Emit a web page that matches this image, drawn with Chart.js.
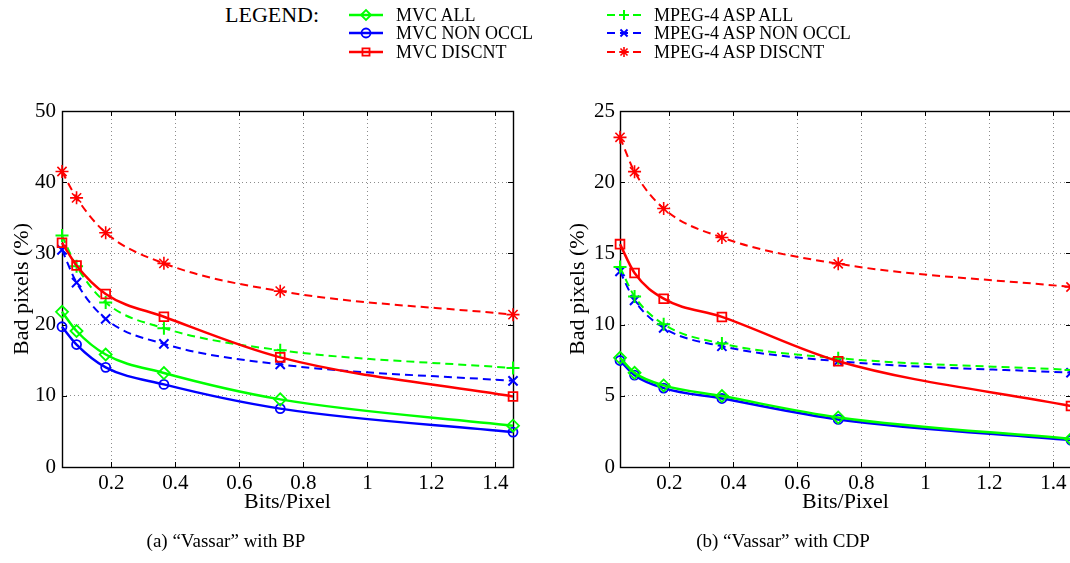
<!DOCTYPE html>
<html><head><meta charset="utf-8">
<script src="https://cdn.jsdelivr.net/npm/chart.js@4/dist/chart.umd.min.js"></script>
<style>
html,body{margin:0;padding:0;background:#fff;overflow:hidden;width:1070px;height:563px;}
body{position:relative;font-family:"Liberation Serif","Times New Roman",serif;color:#000;}
.wrap{position:absolute;}
#legendTitle{position:absolute;left:225px;top:2px;font-size:22px;line-height:26px;}
.legItem{position:absolute;height:18px;display:flex;align-items:center;font-size:18px;line-height:18px;white-space:nowrap;}
.legItem canvas{margin-right:13px;display:block;}
.cap{position:absolute;top:529px;font-size:19px;line-height:24px;text-align:center;width:400px;}
</style></head><body>
<div id="legendTitle">LEGEND:</div>
<div id="legend"></div>
<div class="wrap" id="w1" style="left:0;top:90px;width:560px;height:440px;"><canvas id="c1"></canvas></div>
<div class="wrap" id="w2" style="left:560px;top:90px;width:520px;height:440px;"><canvas id="c2"></canvas></div>
<div class="cap" id="cap1" style="left:26px;"></div>
<div class="cap" id="cap2" style="left:583px;"></div>
<script>
// ---------------- DATA ----------------
const bitsPerPixel = [0.0455, 0.091, 0.182, 0.364, 0.7275, 1.455];
const seriesNames = ['MVC ALL', 'MVC NON OCCL', 'MVC DISCNT', 'MPEG-4 ASP ALL', 'MPEG-4 ASP NON OCCL', 'MPEG-4 ASP DISCNT'];

// (a) "Vassar" with BP
const bpMvcAll       = [21.8, 19.1, 15.8, 13.2, 9.5, 5.8];
const bpMvcNonOccl   = [19.7, 17.2, 14.0, 11.6, 8.2, 4.9];
const bpMvcDiscnt    = [31.5, 28.3, 24.3, 21.1, 15.4, 9.9];
const bpMpegAll      = [32.5, 28.2, 23.1, 19.5, 16.4, 13.9];
const bpMpegNonOccl  = [30.5, 25.9, 20.8, 17.3, 14.4, 12.1];
const bpMpegDiscnt   = [41.5, 37.8, 32.9, 28.6, 24.7, 21.4];

// (b) "Vassar" with CDP
const cdpMvcAll      = [7.67, 6.61, 5.73, 4.98, 3.48, 1.97];
const cdpMvcNonOccl  = [7.48, 6.45, 5.54, 4.81, 3.34, 1.88];
const cdpMvcDiscnt   = [15.65, 13.62, 11.82, 10.54, 7.43, 4.28];
const cdpMpegAll     = [14.04, 11.98, 10.02, 8.67, 7.64, 6.82];
const cdpMpegNonOccl = [13.74, 11.70, 9.77, 8.48, 7.43, 6.62];
const cdpMpegDiscnt  = [23.15, 20.74, 18.15, 16.12, 14.27, 12.64];

const xTickValues = [0.2, 0.4, 0.6, 0.8, 1, 1.2, 1.4];
const xTickLabels = ['0.2', '0.4', '0.6', '0.8', '1', '1.2', '1.4'];
const yTicksBP  = [0, 10, 20, 30, 40, 50];
const yTicksCDP = [0, 5, 10, 15, 20, 25];
const xTitle = 'Bits/Pixel';
const yTitle = 'Bad pixels (%)';
const legendLabel = 'LEGEND:';
const captions = ['(a) \u201cVassar\u201d with BP', '(b) \u201cVassar\u201d with CDP'];

// ---------------- STYLE ----------------
const styles = [
  {color:'#00ff00', dash:[],    point:'rectRot',  r:6,   lw:2.5, pw:1.8},
  {color:'#0000ff', dash:[],    point:'circle',   r:4.5, lw:2.5, pw:1.8},
  {color:'#ff0000', dash:[],    point:'rect',     r:6.2, lw:2.5, pw:1.8},
  {color:'#00ff00', dash:[8,5], point:'cross',    r:6.5, lw:2,   pw:2},
  {color:'#0000ff', dash:[8,5], point:'crossRot', r:6.5, lw:2,   pw:2},
  {color:'#ff0000', dash:[8,5], point:'star',     r:6.5, lw:2,   pw:1.6}
];
const FONT = '"Liberation Serif", "Times New Roman", serif';

function makeDatasets(seriesList){
  return seriesList.map((vals, i) => {
    const s = styles[i];
    return {
      label: seriesNames[i],
      data: vals.map((v, k) => ({x: bitsPerPixel[k], y: v})),
      borderColor: s.color,
      backgroundColor: s.color,
      borderWidth: s.lw,
      borderDash: s.dash,
      pointStyle: s.point,
      pointRadius: s.r,
      pointBorderWidth: s.pw,
      pointBorderColor: s.color,
      pointBackgroundColor: 'rgba(0,0,0,0)',
      cubicInterpolationMode: 'monotone',
      fill: false,
      clip: false
    };
  });
}

const boxPlugin = {
  id: 'boxTicks',
  beforeDatasetsDraw(chart){
    const {ctx, chartArea: a, scales: {x, y}} = chart;
    ctx.save();
    ctx.strokeStyle = '#000';
    ctx.lineWidth = 1;
    ctx.setLineDash([]);
    const L = 5;
    const seg = (x1, y1, x2, y2) => { ctx.beginPath(); ctx.moveTo(x1, y1); ctx.lineTo(x2, y2); ctx.stroke(); };
    x.ticks.forEach(t => {
      const px = Math.round(x.getPixelForValue(t.value)) + 0.5;
      seg(px, a.bottom, px, a.bottom - L);
      seg(px, a.top, px, a.top + L);
    });
    y.ticks.forEach(t => {
      const py = Math.round(y.getPixelForValue(t.value)) + 0.5;
      seg(a.left, py, a.left + L, py);
      seg(a.right, py, a.right - L, py);
    });
    ctx.lineWidth = 1.4;
    ctx.strokeRect(Math.round(a.left) + 0.5, Math.round(a.top) + 0.5, Math.round(a.right - a.left), Math.round(a.bottom - a.top));
    ctx.restore();
  }
};

function makeChart(canvasId, seriesList, yTicks, opts){
  const yMax = yTicks[yTicks.length - 1];
  return new Chart(document.getElementById(canvasId), {
    type: 'line',
    data: { datasets: makeDatasets(seriesList) },
    plugins: [boxPlugin],
    options: {
      responsive: true,
      maintainAspectRatio: false,
      animation: false,
      events: [],
      layout: { padding: { top: 21, left: 0, right: opts.padRight, bottom: 0 } },
      plugins: { legend: { display: false }, tooltip: { enabled: false } },
      scales: {
        x: {
          type: 'linear',
          min: bitsPerPixel[0],
          max: bitsPerPixel[bitsPerPixel.length - 1],
          afterBuildTicks: s => { s.ticks = xTickValues.map(v => ({value: v})); },
          afterFit: s => { s.height = 63; },
          ticks: {
            includeBounds: false,
            autoSkip: false,
            maxRotation: 0,
            padding: 4,
            color: '#000',
            font: { family: FONT, size: 21 },
            callback: (v, i) => xTickLabels[i]
          },
          grid: { color: '#8c8c8c', lineWidth: 1, drawTicks: false },
          border: { display: false, dash: [1, 3] },
          title: { display: true, text: xTitle, color: '#000', font: { family: FONT, size: 22 }, padding: { top: 0, bottom: 15 } }
        },
        y: {
          type: 'linear',
          min: 0,
          max: yMax,
          afterBuildTicks: s => { s.ticks = yTicks.map(v => ({value: v})); },
          afterFit: s => { s.width = opts.yWidth; },
          ticks: {
            autoSkip: false,
            padding: opts.yTickPad,
            color: '#000',
            font: { family: FONT, size: 21 },
            callback: v => String(v)
          },
          grid: { color: '#8c8c8c', lineWidth: 1, drawTicks: false },
          border: { display: false, dash: [1, 3] },
          title: { display: true, text: yTitle, color: '#000', font: { family: FONT, size: 22 }, padding: { top: opts.yTitlePad, bottom: 0 } }
        }
      }
    }
  });
}

makeChart('c1', [bpMvcAll, bpMvcNonOccl, bpMvcDiscnt, bpMpegAll, bpMpegNonOccl, bpMpegDiscnt], yTicksBP,
  { padRight: 47, yWidth: 62, yTickPad: 6, yTitlePad: 9 });
makeChart('c2', [cdpMvcAll, cdpMvcNonOccl, cdpMvcDiscnt, cdpMpegAll, cdpMpegNonOccl, cdpMpegDiscnt], yTicksCDP,
  { padRight: 9, yWidth: 60, yTickPad: 5, yTitlePad: 5 });

// ---------------- LEGEND ----------------
document.getElementById('legendTitle').textContent = legendLabel;
const legend = document.getElementById('legend');
const legCols = [349, 607];
const legRows = [6, 24, 43];
seriesNames.forEach((name, i) => {
  const s = styles[i];
  const item = document.createElement('div');
  item.className = 'legItem';
  item.style.left = legCols[Math.floor(i / 3)] + 'px';
  item.style.top = legRows[i % 3] + 'px';
  const cv = document.createElement('canvas');
  cv.width = 34; cv.height = 18;
  const ctx = cv.getContext('2d');
  ctx.strokeStyle = s.color;
  ctx.lineWidth = s.lw;
  ctx.setLineDash(s.dash);
  ctx.beginPath(); ctx.moveTo(0, 9); ctx.lineTo(34, 9); ctx.stroke();
  ctx.setLineDash([]);
  ctx.lineWidth = s.pw;
  ctx.strokeStyle = s.color;
  ctx.fillStyle = 'rgba(0,0,0,0)';
  if (Chart.helpers && Chart.helpers.drawPoint) {
    Chart.helpers.drawPoint(ctx, {pointStyle: s.point, radius: Math.min(s.r, 5), rotation: 0, borderWidth: s.pw}, 17, 9);
  }
  item.appendChild(cv);
  const sp = document.createElement('span');
  sp.textContent = name;
  item.appendChild(sp);
  legend.appendChild(item);
});
document.getElementById('cap1').textContent = captions[0];
document.getElementById('cap2').textContent = captions[1];
</script>
</body></html>
